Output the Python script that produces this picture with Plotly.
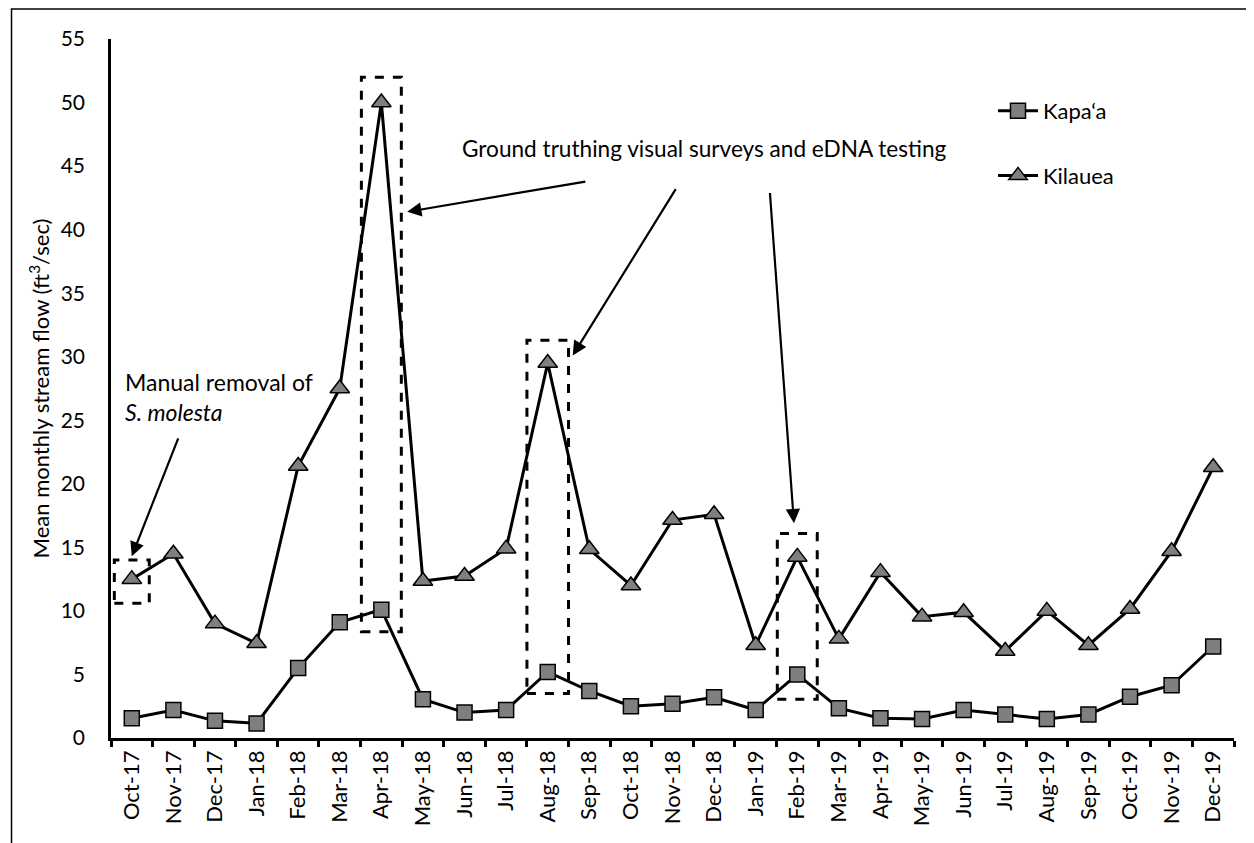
import plotly.graph_objects as go

months = ["Oct-17", "Nov-17", "Dec-17", "Jan-18", "Feb-18", "Mar-18", "Apr-18", "May-18", "Jun-18",
          "Jul-18", "Aug-18", "Sep-18", "Oct-18", "Nov-18", "Dec-18", "Jan-19", "Feb-19", "Mar-19",
          "Apr-19", "May-19", "Jun-19", "Jul-19", "Aug-19", "Sep-19", "Oct-19", "Nov-19", "Dec-19"]
kapaa = [1.55, 2.2, 1.35, 1.15, 5.5, 9.1, 10.1, 3.05, 2.0, 2.2, 5.2, 3.7, 2.5, 2.7, 3.2, 2.2, 5.0, 2.35,
         1.55, 1.5, 2.2, 1.85, 1.5, 1.85, 3.25, 4.15, 7.2]
kilauea = [12.5, 14.5, 9.0, 7.45, 21.4, 27.5, 50.0, 12.35, 12.75, 14.9, 29.5, 14.85, 12.0, 17.15, 17.6,
           7.3, 14.25, 7.8, 13.05, 9.55, 9.9, 6.85, 10.0, 7.3, 10.15, 14.7, 21.3]

FONT = "Lato, Carlito, Calibri, sans-serif"
FS = 22
OFF = 8  # page body margin offset
W, H = 1246, 835
L, R, T, B = 103, 20, 31, 105
pw, ph = W - L - R, H - T - B

def px(x):
    return (x - OFF - L) / pw

def py(y):
    return (H - B - (y - OFF)) / ph

fig = go.Figure()
fig.add_trace(go.Scatter(
    x=months, y=kapaa, name="Kapa‘a", mode="lines+markers", legendgroup="a",
    line=dict(color="black", width=3),
    marker=dict(symbol="square", size=15, color="#7f7f7f", line=dict(color="black", width=1.5))))
fig.add_trace(go.Scatter(
    x=months, y=kilauea, name="Kilauea", mode="lines+markers", legendgroup="b",
    line=dict(color="black", width=3),
    marker=dict(symbol="triangle-up", size=17, color="#7f7f7f", line=dict(color="black", width=1.5))))

# dashed boxes around highlighted months: (category, y bottom, y top, half width)
boxes = [("Oct-17", 10.6, 14.0, 0.42), ("Apr-18", 8.36, 52.0, 0.48),
         ("Aug-18", 3.5, 31.3, 0.5), ("Feb-19", 3.05, 16.1, 0.48)]
for cat, y0, y1, hw in boxes:
    i = months.index(cat)
    fig.add_shape(type="rect", xref="x", yref="y", x0=i - hw, x1=i + hw, y0=y0, y1=y1,
                  line=dict(color="black", width=3, dash="dash"), fillcolor="rgba(0,0,0,0)")

# arrows (tail -> head) in category index / value coordinates
arrows = [((1.13, 23.7), (0.0, 14.3)),
          ((10.94, 43.8), (6.62, 41.4)),
          ((13.1, 43.3), (10.6, 30.1)),
          ((15.34, 43.0), (15.92, 16.9))]
for (tx, ty), (hx, hy) in arrows:
    fig.add_annotation(x=hx, y=hy, ax=tx, ay=ty, xref="x", yref="y", axref="x", ayref="y",
                       text="", showarrow=True, arrowhead=2, arrowsize=1.3, arrowwidth=2.2,
                       arrowcolor="black")

fig.add_annotation(x=7.89, y=46.4, xref="x", yref="y", xanchor="left", yanchor="middle",
                   text="Ground truthing visual surveys and eDNA testing", showarrow=False,
                   font=dict(family=FONT, size=22.6, color="black"))
fig.add_annotation(x=-0.2, y=26.85, xref="x", yref="y", xanchor="left", yanchor="middle",
                   text="Manual removal of<br><i>S. molesta</i>", showarrow=False, align="left",
                   font=dict(family=FONT, size=23, color="black"))

# outer border
fig.add_shape(type="rect", xref="paper", yref="paper", x0=px(11.5), x1=px(1270), y0=py(870), y1=py(9),
              line=dict(color="black", width=1.5), fillcolor="rgba(0,0,0,0)", layer="below")

fig.update_layout(
    width=W, height=H, margin=dict(l=L, r=R, t=T, b=B),
    paper_bgcolor="white", plot_bgcolor="white",
    font=dict(family=FONT, size=FS, color="black"),
    showlegend=True,
    legend=dict(x=px(993), y=py(90), xanchor="left", yanchor="top", tracegroupgap=33, itemwidth=40,
                font=dict(family=FONT, size=FS, color="black"), bgcolor="rgba(0,0,0,0)"),
    xaxis=dict(type="category", range=[-0.5, len(months) - 0.5], showline=True, linecolor="black",
               linewidth=2.5, ticks="outside", tickson="boundaries", ticklen=6, tickwidth=2.5,
               tickcolor="black", tickangle=-90, showgrid=False, zeroline=False, automargin=False,
               tickfont=dict(family=FONT, size=22, color="black"), ticklabelstandoff=1),
    yaxis=dict(range=[0, 55], dtick=5, showline=True, linecolor="black", linewidth=2.5, ticks="",
               showgrid=False, zeroline=False, automargin=False,
               tickfont=dict(family=FONT, size=FS - 1, color="black"),
               ticklabelstandoff=19,
               title=dict(text="Mean monthly stream flow (ft<sup>3</sup>/sec)", standoff=5,
                          font=dict(family=FONT, size=FS, color="black"))),
)

fig.write_html("out.html")
